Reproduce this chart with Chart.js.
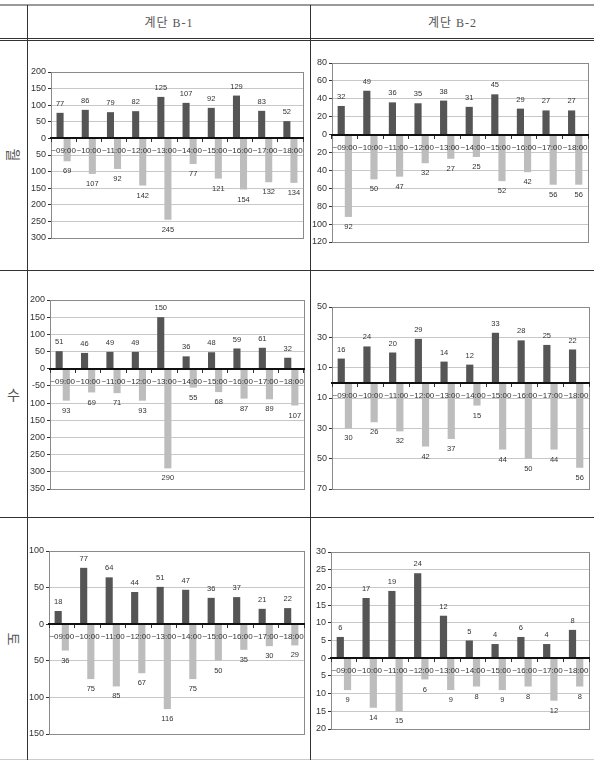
<!DOCTYPE html>
<html>
<head>
<meta charset="utf-8">
<script src="https://cdn.jsdelivr.net/npm/chart.js@4.4.1/dist/chart.umd.min.js"></script>
<style>
body{margin:0;background:#fff;}
#page{position:relative;width:594px;height:761px;overflow:hidden;background:#fff;}
.ln{position:absolute;background:#333;}
.head{position:absolute;top:14px;height:18px;line-height:18px;text-align:center;font-family:'Liberation Serif','Noto Sans CJK KR',serif;font-size:12px;color:#555;letter-spacing:1px;}
.day{position:absolute;left:0;width:27px;text-align:center;font-family:'Noto Sans CJK KR',sans-serif;font-size:14px;color:#555;}
canvas{position:absolute;}
</style>
</head>
<body>
<div id="page">
  <div class="ln" style="left:0;top:4px;width:594px;height:2px;background:#9a9a9a"></div>
  <div class="ln" style="left:0;top:38px;width:594px;height:1px"></div>
  <div class="ln" style="left:0;top:40px;width:594px;height:1px"></div>
  <div class="ln" style="left:0;top:270px;width:594px;height:1px"></div>
  <div class="ln" style="left:0;top:517px;width:594px;height:1px"></div>
  <div class="ln" style="left:0;top:759px;width:594px;height:1px;background:#ccc"></div>
  <div class="ln" style="left:27px;top:5px;width:1px;height:755px"></div>
  <div class="ln" style="left:310px;top:5px;width:1px;height:755px"></div>
  <div class="head" style="left:28px;width:282px">계단 B-1</div>
  <div class="head" style="left:311px;width:283px">계단 B-2</div>
  <div class="day" style="top:145px;transform:rotate(90deg)">월</div>
  <div class="day" style="top:384px">수</div>
  <div class="day" style="top:629px;transform:rotate(90deg)">토</div>
</div>
<script>
// --- Data ---
const timeLabels = ['~09:00','~10:00','~11:00','~12:00','~13:00','~14:00','~15:00','~16:00','~17:00','~18:00'];

const monB1Up   = [77, 86, 79, 82, 125, 107, 92, 129, 83, 52];
const monB1Down = [69, 107, 92, 142, 245, 77, 121, 154, 132, 134];
const monB1Ticks = ['200','150','100','50','0','50','100','150','200','250','300'];

const monB2Up   = [32, 49, 36, 35, 38, 31, 45, 29, 27, 27];
const monB2Down = [92, 50, 47, 32, 27, 25, 52, 42, 56, 56];
const monB2Ticks = ['80','60','40','20','0','20','40','60','80','100','120'];

const wedB1Up   = [51, 46, 49, 49, 150, 36, 48, 59, 61, 32];
const wedB1Down = [93, 69, 71, 93, 290, 55, 68, 87, 89, 107];
const wedB1Ticks = ['200','150','100','50','0','-50','100','150','200','250','300','350'];

const wedB2Up   = [16, 24, 20, 29, 14, 12, 33, 28, 25, 22];
const wedB2Down = [30, 26, 32, 42, 37, 15, 44, 50, 44, 56];
const wedB2Ticks = ['50','30','10','10','30','50','70'];

const satB1Up   = [18, 77, 64, 44, 51, 47, 36, 37, 21, 22];
const satB1Down = [36, 75, 85, 67, 116, 75, 50, 35, 30, 29];
const satB1Ticks = ['100','50','0','50','100','150'];

const satB2Up   = [6, 17, 19, 24, 12, 5, 4, 6, 4, 8];
const satB2Down = [9, 14, 15, 6, 9, 8, 9, 8, 12, 8];
const satB2Ticks = ['30','25','20','15','10','5','0','5','10','15','20'];

// chart setup: data + axis range, then where the plot area sits on the page
const charts = [
  {up:monB1Up, down:monB1Down, ticks:monB1Ticks, min:-300, max:200, step:50,
   cell:{x:28, y:42, w:282, h:228},  plot:{l:51, r:303, t:72, b:238}},
  {up:monB2Up, down:monB2Down, ticks:monB2Ticks, min:-120, max:80, step:20,
   cell:{x:312, y:42, w:282, h:228}, plot:{l:332, r:588, t:63, b:242}},
  {up:wedB1Up, down:wedB1Down, ticks:wedB1Ticks, min:-350, max:200, step:50,
   cell:{x:28, y:272, w:282, h:245}, plot:{l:50, r:304, t:300, b:489}},
  {up:wedB2Up, down:wedB2Down, ticks:wedB2Ticks, min:-70, max:50, step:20,
   cell:{x:312, y:272, w:282, h:245}, plot:{l:332, r:589, t:307, b:489}},
  {up:satB1Up, down:satB1Down, ticks:satB1Ticks, min:-150, max:100, step:50,
   cell:{x:28, y:519, w:282, h:240}, plot:{l:49, r:304, t:551, b:734}},
  {up:satB2Up, down:satB2Down, ticks:satB2Ticks, min:-20, max:30, step:5,
   cell:{x:312, y:519, w:282, h:240}, plot:{l:331, r:589, t:552, b:729}}
];

// value labels above / below each bar
const valueLabels = {
  id:'valueLabels',
  afterDatasetsDraw(chart){
    const ctx = chart.ctx;
    ctx.save();
    ctx.font = '7.5px "Liberation Sans", Arial, sans-serif';
    ctx.fillStyle = '#333';
    ctx.textAlign = 'center';
    ctx.textBaseline = 'middle';
    chart.data.datasets.forEach((ds,i)=>{
      chart.getDatasetMeta(i).data.forEach((bar,j)=>{
        const v = ds.data[j];
        ctx.fillText(Math.abs(v), bar.x, v >= 0 ? bar.y - 9 : bar.y + 10);
      });
    });
    ctx.restore();
  }
};

// grey frame round the plot area
const plotFrame = {
  id:'plotFrame',
  beforeDatasetsDraw(chart){
    const a = chart.chartArea, ctx = chart.ctx;
    ctx.save();
    ctx.strokeStyle = '#8a8a8a';
    ctx.lineWidth = 1;
    ctx.strokeRect(Math.round(a.left)+0.5, Math.round(a.top)+0.5, Math.round(a.right-a.left), Math.round(a.bottom-a.top));
    ctx.restore();
  }
};

const page = document.getElementById('page');
charts.forEach(c=>{
  const cv = document.createElement('canvas');
  cv.width = c.cell.w; cv.height = c.cell.h;
  cv.style.left = c.cell.x + 'px'; cv.style.top = c.cell.y + 'px';
  cv.style.width = c.cell.w + 'px'; cv.style.height = c.cell.h + 'px';
  page.appendChild(cv);

  const yW = c.plot.l - c.cell.x;
  new Chart(cv.getContext('2d'), {
    type:'bar',
    data:{
      labels: timeLabels,
      datasets:[
        {data:c.up, backgroundColor:'#555555', categoryPercentage:0.56, barPercentage:1},
        {data:c.down.map(v=>-v), backgroundColor:'#bdbdbd', categoryPercentage:0.56, barPercentage:1}
      ]
    },
    options:{
      responsive:false,
      animation:false,
      layout:{padding:{left:0, right:c.cell.x + c.cell.w - c.plot.r, top:c.plot.t - c.cell.y, bottom:c.cell.y + c.cell.h - c.plot.b}},
      plugins:{legend:{display:false}, tooltip:{enabled:false}},
      scales:{
        x:{
          position:{y:0},
          // axis line, tick marks and labels sit over the bars
          grid:{display:true, drawOnChartArea:false, drawTicks:true, tickLength:3, offset:true, tickColor:'#333', z:1},
          border:{color:'#111', width:2, z:1},
          ticks:{autoSkip:false, maxRotation:0, minRotation:0, padding:5, color:'#333', z:1,
                 font:{family:'"Liberation Sans", Arial, sans-serif', size:8}}
        },
        y:{
          min:c.min, max:c.max,
          grid:{color:'#c8c8c8', tickLength:3, tickColor:'#333'},
          border:{color:'#333', width:1},
          ticks:{stepSize:c.step, padding:2, color:'#333',
                 font:{family:'"Liberation Sans", Arial, sans-serif', size:9}},
          afterFit:(scale)=>{ scale.width = yW; }
        }
      }
    },
    plugins:[plotFrame, valueLabels]
  });
  // tick text comes from the chart's own label list
  const ch = Chart.getChart(cv);
  ch.options.scales.y.ticks.callback = (v,i,ticks)=>c.ticks[ticks.length-1-i];
  ch.update();
});
</script>
</body>
</html>
